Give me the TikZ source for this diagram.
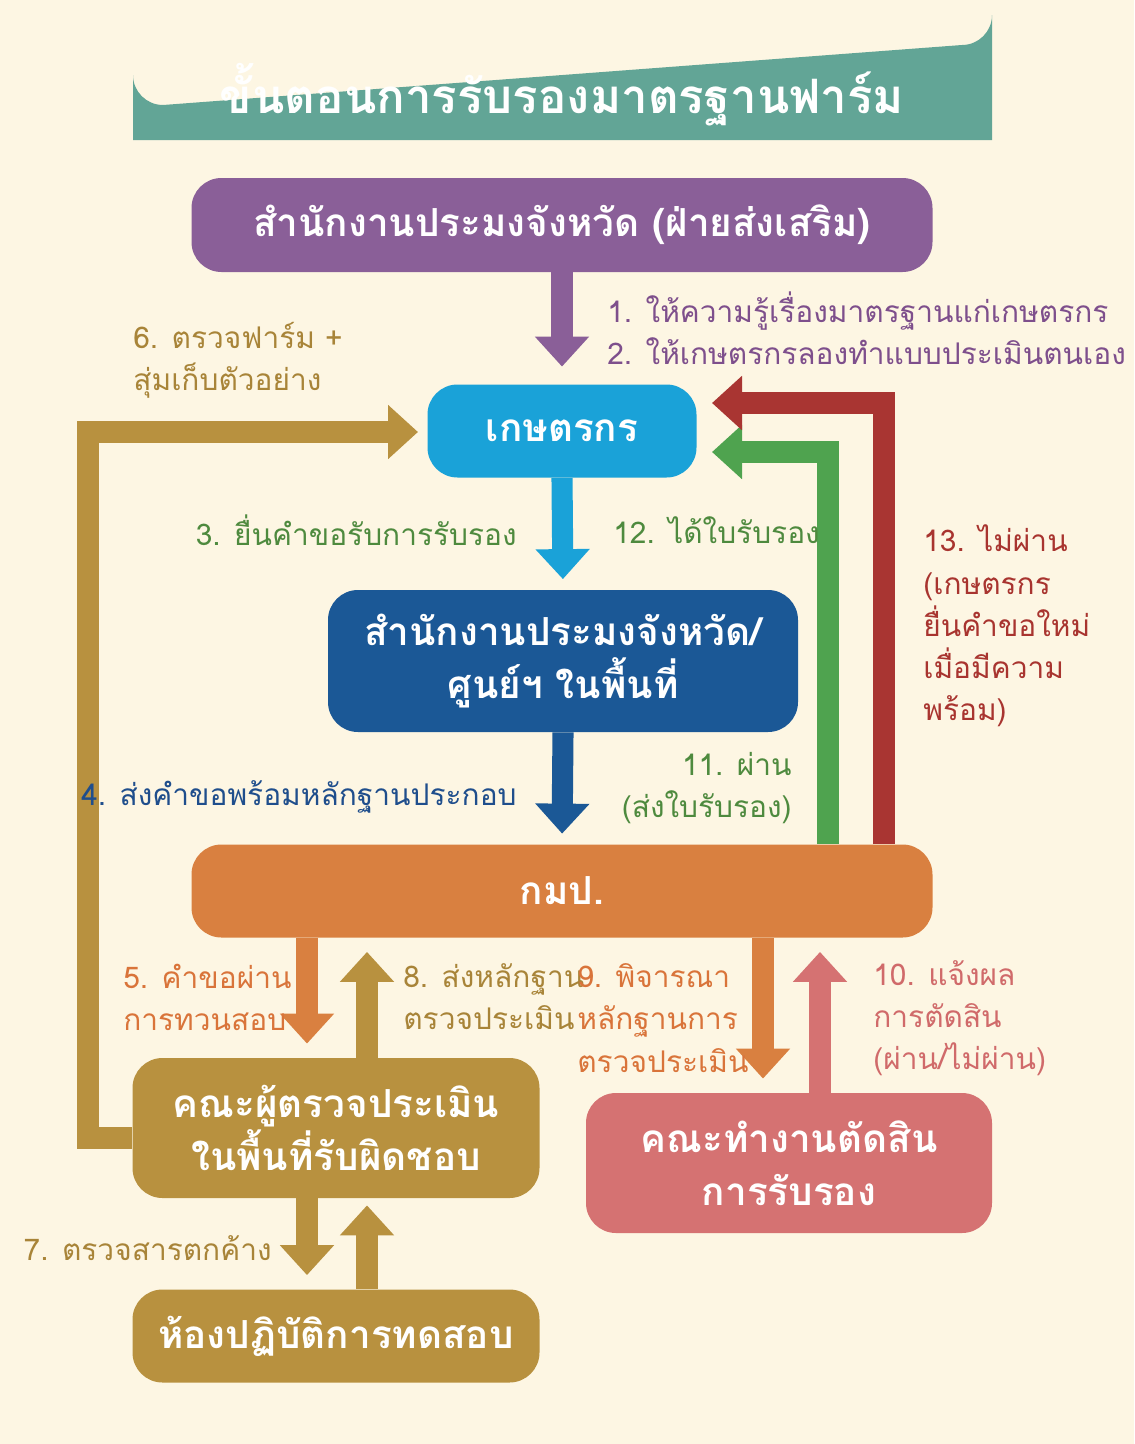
\documentclass[tikz,border=0pt]{standalone}
\usepackage{fontspec}
\newfontfamily\thai[Script=Thai]{Loma}
\usetikzlibrary{arrows.meta,calc}
\definecolor{bg}{HTML}{FDF6E3}
\definecolor{teal}{HTML}{62A596}
\definecolor{purp}{HTML}{8A5F98}
\definecolor{sky}{HTML}{1AA2D8}
\definecolor{navy}{HTML}{1B5896}
\definecolor{orng}{HTML}{D98040}
\definecolor{gold}{HTML}{B8913F}
\definecolor{pink}{HTML}{D57272}
\definecolor{grn}{HTML}{4FA34F}
\definecolor{red}{HTML}{A93532}
\definecolor{tpurp}{HTML}{7E4F8C}
\definecolor{tgrn}{HTML}{4E8A3E}
\definecolor{tnavy}{HTML}{1F4E8C}
\definecolor{torng}{HTML}{D9743A}
\definecolor{tpink}{HTML}{D06A6A}
\definecolor{tgold}{HTML}{A88438}
\definecolor{tred}{HTML}{A8342F}
\begin{document}
\begin{tikzpicture}[x=0.02cm,y=-0.02cm,
  box/.style={rounded corners=0.6cm,text=white,font=\thai\bfseries\fontsize{22}{30}\selectfont,align=center,inner sep=0pt},
  lbl/.style={font=\thai\fontsize{17}{24}\selectfont,inner sep=0pt},
  arr/.style={line width=12pt,-{Triangle[width=1.05cm,length=0.6cm]}},
  harr/.style={line width=12pt,-{Triangle[width=1.05cm,length=0.6cm]},rounded corners=0pt}]
\fill[bg] (0,0) rectangle (1134,1444);
\useasboundingbox (0,0) rectangle (1134,1444);
% title
\fill[teal] (133,140) -- (133,75) arc[start angle=180,end angle=90,radius=30] -- (962,45) arc[start angle=90,end angle=0,radius=30] -- (992,140) -- cycle;
\node[text=white,font=\thai\bfseries\fontsize{27}{32}\selectfont] (title) at (562,95) {ขั้นตอนการรับรองมาตรฐานฟาร์ม};
% boxes
\node[box,fill=purp,minimum width=741*0.02cm,minimum height=94*0.02cm] (pur) at (562,225) {สำนักงานประมงจังหวัด (ฝ่ายส่งเสริม)};
\node[box,fill=sky,minimum width=269*0.02cm,minimum height=93*0.02cm] (farm) at (562,431) {เกษตรกร};
\node[box,fill=navy,minimum width=470*0.02cm,minimum height=142*0.02cm] (prov) at (563,661) {สำนักงานประมงจังหวัด/\\ศูนย์ฯ ในพื้นที่};
\node[box,fill=orng,minimum width=741*0.02cm,minimum height=93*0.02cm] (kmp) at (562,891) {กมป.};
\node[box,fill=gold,minimum width=407*0.02cm,minimum height=140*0.02cm] (insp) at (336,1128) {คณะผู้ตรวจประเมิน\\ในพื้นที่รับผิดชอบ};
\node[box,fill=pink,minimum width=406*0.02cm,minimum height=140*0.02cm] (comm) at (789,1163) {คณะทำงานตัดสิน\\การรับรอง};
\node[box,fill=gold,minimum width=407*0.02cm,minimum height=93*0.02cm] (lab) at (336,1336) {ห้องปฏิบัติการทดสอบ};
% helper x coords
\coordinate (x307) at (307,0);
\coordinate (x367) at (367,0);
\coordinate (x763) at (763,0);
\coordinate (x820) at (820,0);
\coordinate (x828) at (828,0);
\coordinate (x884) at (884,0);
\coordinate (x88) at (88,0);
\coordinate (eG) at (712,452);
\coordinate (eR) at (712,403);
\coordinate (eF) at (418,432);
% arrows
\draw[arr,purp,shorten >=10pt] (pur.south) -- (farm.north);
\draw[arr,sky,shorten >=6pt] (farm.south) -- (prov.north);
\draw[arr,navy,shorten >=6pt] (prov.south) -- (kmp.north);
\draw[arr,orng,shorten >=8pt] (kmp.south -| x307) -- (insp.north -| x307);
\draw[arr,gold,shorten >=8pt] (insp.north -| x367) -- (kmp.south -| x367);
\draw[arr,orng,shorten >=8pt] (kmp.south -| x763) -- (comm.north -| x763);
\draw[arr,pink,shorten >=8pt] (comm.north -| x820) -- (kmp.south -| x820);
\draw[arr,gold,shorten >=8pt] (insp.south -| x307) -- (lab.north -| x307);
\draw[arr,gold,shorten >=4pt] (lab.north -| x367) -- (insp.south -| x367);
\draw[harr,grn] (kmp.north -| x828) -- (eG -| x828) -- (eG);
\draw[harr,red] (kmp.north -| x884) -- (eR -| x884) -- (eR);
\draw[harr,gold] (insp.west |- 0,1138) -- (88,1138) -- (88,432) -- (eF);
% labels
\node[lbl,text=tpurp,anchor=west,align=left] (l1) at (607,328) {1. ให้ความรู้เรื่องมาตรฐานแก่เกษตรกร\\2. ให้เกษตรกรลองทำแบบประเมินตนเอง};
\node[lbl,text=tgold,anchor=west,align=left] (l6) at (133,360) {6. ตรวจฟาร์ม +\\สุ่มเก็บตัวอย่าง};
\node[lbl,text=tgrn,anchor=east] (l3) at (517,530) {3. ยื่นคำขอรับการรับรอง};
\node[lbl,text=tgrn,anchor=west] (l12) at (613,530) {12. ได้ใบรับรอง};
\node[lbl,text=tred,anchor=west,align=left] (l13) at (923,626) {13. ไม่ผ่าน\\(เกษตรกร\\ยื่นคำขอใหม่\\เมื่อมีความ\\พร้อม)};
\node[lbl,text=tnavy,anchor=east] (l4) at (517,797) {4. ส่งคำขอพร้อมหลักฐานประกอบ};
\node[lbl,text=tgrn,anchor=east,align=right] (l11) at (792,788) {11. ผ่าน\\(ส่งใบรับรอง)};
\node[lbl,text=torng,anchor=west,align=left] (l5) at (123,997) {5. คำขอผ่าน\\การทวนสอบ};
\node[lbl,text=tgold,anchor=west,align=left] (l8) at (403,997) {8. ส่งหลักฐาน\\ตรวจประเมิน};
\node[lbl,text=torng,anchor=west,align=left] (l9) at (577,1018) {9. พิจารณา\\หลักฐานการ\\ตรวจประเมิน};
\node[lbl,text=tpink,anchor=west,align=left] (l10) at (873,1018) {10. แจ้งผล\\การตัดสิน\\(ผ่าน/ไม่ผ่าน)};
\node[lbl,text=tgold,anchor=east] (l7) at (272,1248) {7. ตรวจสารตกค้าง};
\end{tikzpicture}
\end{document}
